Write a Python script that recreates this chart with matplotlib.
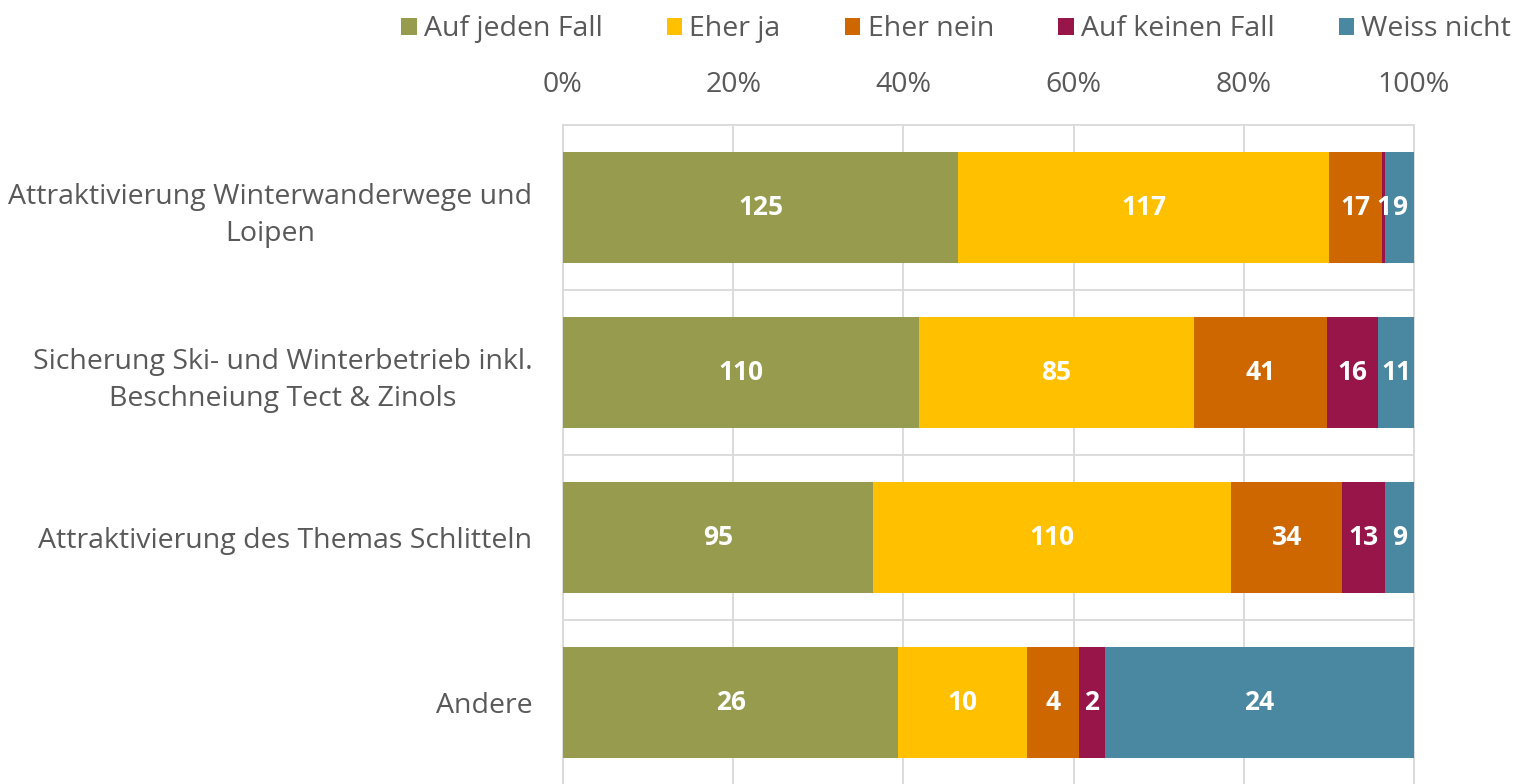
import matplotlib.pyplot as plt
import numpy as np
from matplotlib.ticker import FuncFormatter

plt.rcParams['font.family'] = ['Open Sans', 'DejaVu Sans']

categories = [
    'Attraktivierung Winterwanderwege und\nLoipen',
    'Sicherung Ski- und Winterbetrieb inkl.\nBeschneiung Tect & Zinols',
    'Attraktivierung des Themas Schlitteln',
    'Andere',
]
series = ['Auf jeden Fall', 'Eher ja', 'Eher nein', 'Auf keinen Fall', 'Weiss nicht']
auf_jeden_fall = [125, 110, 95, 26]
eher_ja = [117, 85, 110, 10]
eher_nein = [17, 41, 34, 4]
auf_keinen_fall = [1, 16, 13, 2]
weiss_nicht = [9, 11, 9, 24]
colors = ['#969B4E', '#FFC000', '#CE6700', '#98154A', '#4A87A1']

counts = np.array([auf_jeden_fall, eher_ja, eher_nein, auf_keinen_fall, weiss_nicht], dtype=float)
shares = counts / counts.sum(axis=0)

text_color = '#595959'
grid_color = '#D9D9D9'
fs = 20.5

fig = plt.figure(figsize=(15.24, 7.84), dpi=100)
ax = fig.add_axes([0.3694, -0.0013, 0.5584, 0.8419])

y = np.arange(len(categories))
left = np.zeros(len(categories))
for i, name in enumerate(series):
    ax.barh(y, shares[i], left=left, height=0.667, color=colors[i], label=name, zorder=3)
    for j in range(len(categories)):
        ax.text(left[j] + shares[i][j] / 2, y[j], f'{int(counts[i][j])}',
                ha='center', va='center', color='white', fontsize=19,
                fontweight='bold', zorder=4)
    left += shares[i]

ax.set_xlim(0, 1)
ax.set_ylim(3.5, -0.5)
ax.set_xticks(np.arange(0, 1.01, 0.2))
ax.xaxis.set_major_formatter(FuncFormatter(lambda v, p: f'{v * 100:.0f}%'))
ax.xaxis.tick_top()
ax.set_yticks(y)
ax.set_yticklabels(categories, multialignment='center', linespacing=1.45)
ax.tick_params(axis='x', length=0, pad=19, labelsize=fs, labelcolor=text_color)
ax.tick_params(axis='y', length=0, pad=22, labelsize=fs, labelcolor=text_color)

# vertical gridlines plus separators between categories
ax.grid(axis='x', color=grid_color, linewidth=1.3, zorder=0)
for b in [0.5, 1.5, 2.5]:
    ax.axhline(b, color=grid_color, linewidth=1.3, zorder=0)
for s in ax.spines.values():
    s.set_color(grid_color)
    s.set_linewidth(1.3)

fig.legend(loc='upper right', bbox_to_anchor=(1.0, 0.997), ncol=5, frameon=False,
           fontsize=fs, labelcolor=text_color, handlelength=0.55, handleheight=0.55,
           handletextpad=0.25, columnspacing=2.25, borderaxespad=0.05)

fig.savefig('out.png', dpi=100)
